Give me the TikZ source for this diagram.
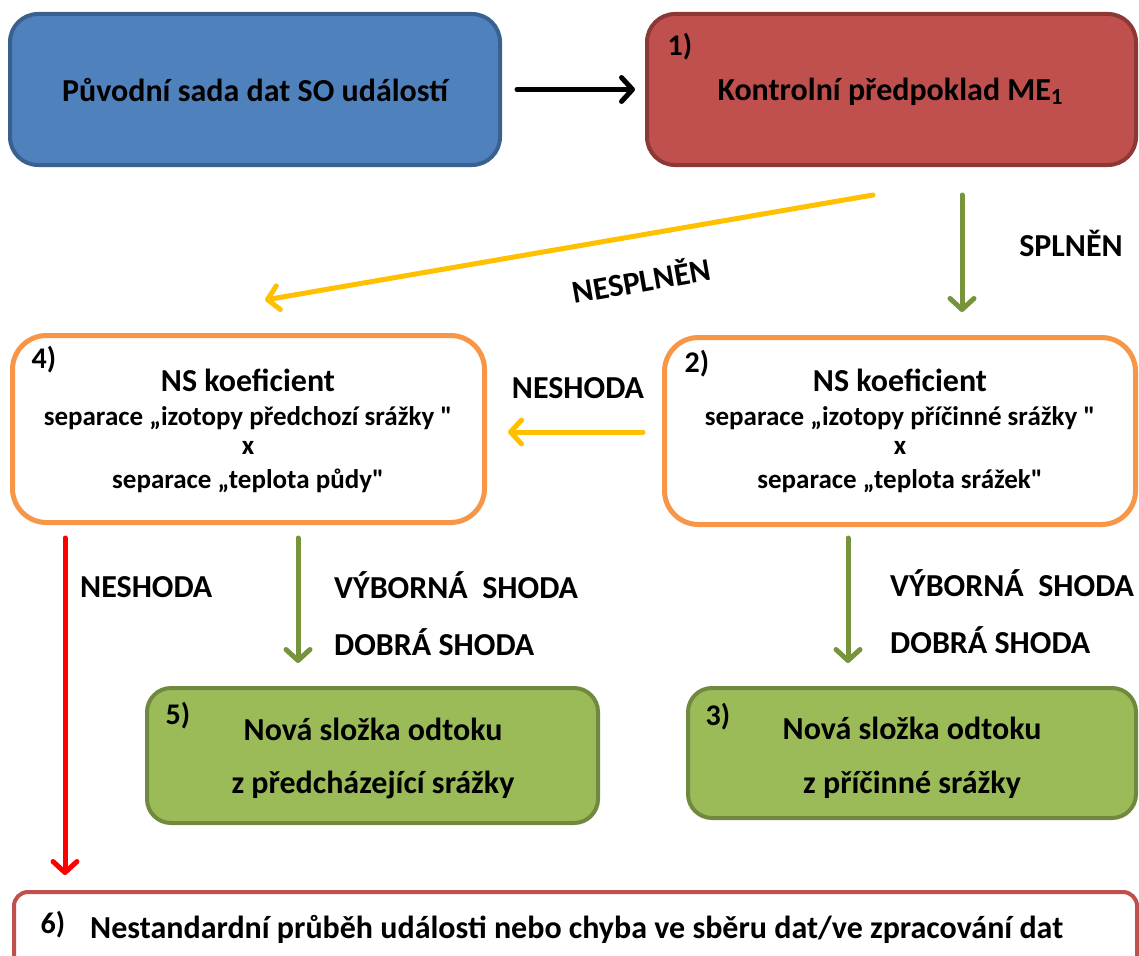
\documentclass[tikz,border=0pt]{standalone}
\usepackage{fontspec}
\setmainfont{Carlito}[Ligatures=TeXOff]
\usetikzlibrary{arrows.meta}
\definecolor{blueF}{HTML}{4F81BD}
\definecolor{blueD}{HTML}{3A6090}
\definecolor{redF}{HTML}{C0504D}
\definecolor{redD}{HTML}{8C3836}
\definecolor{orangeD}{HTML}{F79646}
\definecolor{greenF}{HTML}{9BBB59}
\definecolor{greenD}{HTML}{71893F}
\definecolor{yellowA}{HTML}{FFC000}
\definecolor{greenA}{HTML}{77933C}
\definecolor{redA}{HTML}{FF0000}
\begin{document}
\begin{tikzpicture}[x=1pt,y=-1pt,
  box/.style={draw, line width=4pt, rounded corners=28pt, inner sep=0pt},
  txt/.style={font=\fontsize{32}{36}\selectfont\bfseries, inner sep=0pt},
  sub/.style={font=\fontsize{27}{30}\selectfont\bfseries, inner sep=0pt},
  num/.style={font=\fontsize{30}{32}\selectfont\bfseries, inner sep=0pt},
  conn/.style={line width=5pt, line cap=round, -{Straight Barb[length=11pt,width=24pt,round]}},
]
\useasboundingbox (0,0) rectangle (1139,955);
\clip (0,0) rectangle (1139,955);

% boxes
\node[box, fill=blueF, draw=blueD, minimum width=490pt, minimum height=151pt] (orig) at (255,89.5) {};
\node[box, fill=redF, draw=redD, minimum width=489pt, minimum height=151pt] (ctrl) at (891.5,89.5) {};
\node[box, fill=white, draw=orangeD, line width=5pt, rounded corners=34pt, minimum width=472pt, minimum height=187pt] (ns4) at (248.5,429) {};
\node[box, fill=white, draw=orangeD, line width=5pt, rounded corners=34pt, minimum width=471pt, minimum height=187pt] (ns2) at (900,431) {};
\node[box, fill=greenF, draw=greenD, rounded corners=24pt, minimum width=451pt, minimum height=135pt] (new5) at (372.5,755.5) {};
\node[box, fill=greenF, draw=greenD, rounded corners=24pt, minimum width=448pt, minimum height=130pt] (new3) at (912,753) {};
\node[box, fill=white, draw=redF, rounded corners=14pt, minimum width=1123pt, minimum height=83pt] (err) at (575.5,933.5) {};

% box texts
\node[txt] (t0) at (255,90) {Původní sada dat SO událostí};
\node[num] (n1) at (680,47) {1)};
\node[txt] (t1) at (890,92) {Kontrolní předpoklad ME\raisebox{-0.22ex}{\fontsize{23}{23}\selectfont 1}};

\node[num] (n4) at (44,360) {4)};
\node[txt] (t4a) at (248,380) {NS koeficient};
\node[sub] (t4b) at (248,418) {separace „izotopy předchozí srážky "};
\node[sub] (t4c) at (248,448) {x};
\node[sub] (t4d) at (248,481) {separace „teplota půdy"};

\node[num] (n2) at (697,364) {2)};
\node[txt] (t2a) at (900,380) {NS koeficient};
\node[sub] (t2b) at (900,418) {separace „izotopy příčinné srážky "};
\node[sub] (t2c) at (900,448) {x};
\node[sub] (t2d) at (900,481) {separace „teplota srážek"};

\node[num] (n5) at (178,716) {5)};
\node[txt] (t5a) at (373,729) {Nová složka odtoku};
\node[txt] (t5b) at (373,785) {z předcházející srážky};

\node[num] (n3) at (718,717) {3)};
\node[txt] (t3a) at (912,728) {Nová složka odtoku};
\node[txt] (t3b) at (912,785) {z příčinné srážky};

\node[num] (n6) at (53,925) {6)};
\node[txt, anchor=west] (t6) at (90,929) {Nestandardní průběh události nebo chyba ve sběru dat/ve zpracování dat};

% connectors
\draw[conn, black] ([xshift=15pt]orig.east) -- ([xshift=-10pt]ctrl.west);
\draw[conn, yellowA] ([xshift=-18.5pt,yshift=-28pt]ctrl.south) -- ([xshift=16.5pt,yshift=33pt]ns4.north);
\draw[conn, greenA] ([xshift=70.5pt,yshift=-28pt]ctrl.south) -- ([xshift=62pt,yshift=23pt]ns2.north);
\draw[conn, yellowA] ([xshift=-19pt,yshift=-1pt]ns2.west) -- ([xshift=21pt,yshift=-3pt]ns4.east);
\draw[conn, redA] ([xshift=-183.5pt,yshift=-13pt]ns4.south) -- ([xshift=-510.5pt,yshift=15pt]err.north);
\draw[conn, greenA] ([xshift=49.5pt,yshift=-13pt]ns4.south) -- ([xshift=-74.5pt,yshift=23pt]new5.north);
\draw[conn, greenA] ([xshift=-52pt,yshift=-11pt]ns2.south) -- ([xshift=-64pt,yshift=23pt]new3.north);

% connector labels
\node[txt, rotate=10] (lnespl) at (641,279) {NESPLNĚN};
\node[txt] (lspl) at (1071,243) {SPLNĚN};
\node[txt] (lnes1) at (578,388) {NESHODA};
\node[txt, anchor=west] (lnes2) at (80,587) {NESHODA};
\node[txt, anchor=west] (lvy1) at (334,585) {VÝBORNÁ\ \ SHODA};
\node[txt, anchor=west] (ldo1) at (334,642) {DOBRÁ SHODA};
\node[txt, anchor=west] (lvy2) at (890,583) {VÝBORNÁ\ \ SHODA};
\node[txt, anchor=west] (ldo2) at (890,640) {DOBRÁ SHODA};
\end{tikzpicture}
\end{document}
